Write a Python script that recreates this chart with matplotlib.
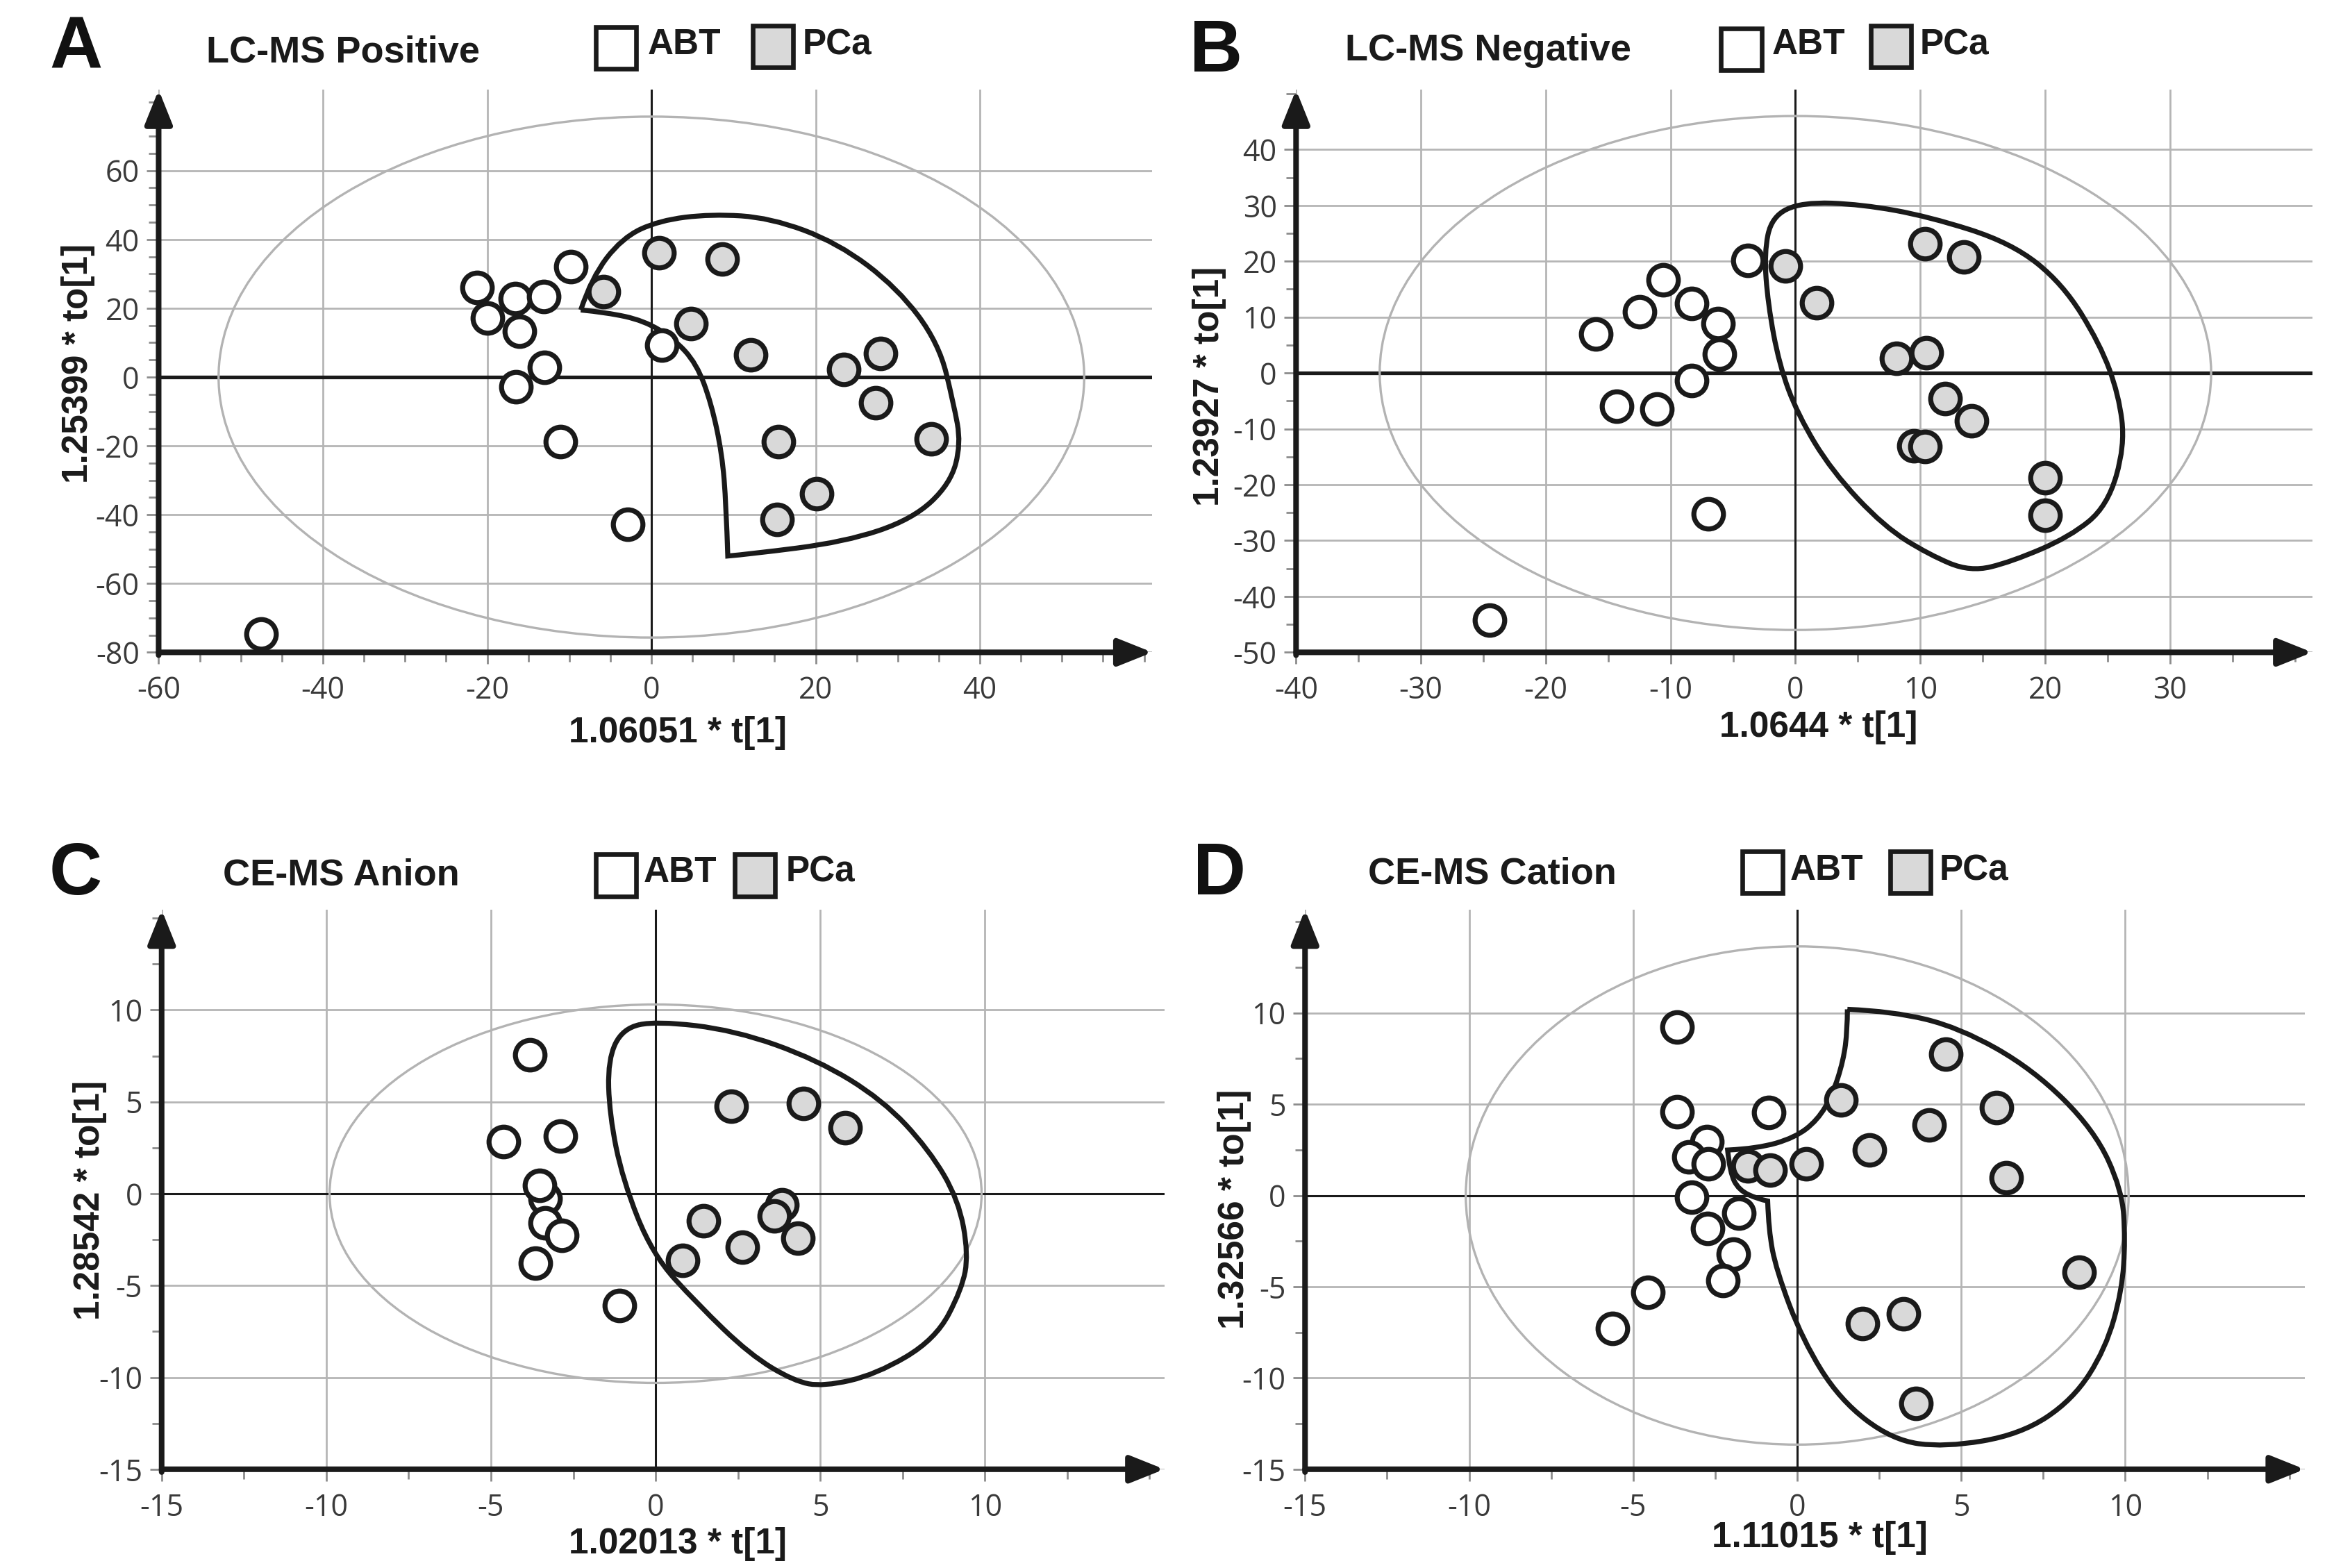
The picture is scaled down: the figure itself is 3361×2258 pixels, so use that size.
import numpy as np
import matplotlib.pyplot as plt
from matplotlib.patches import Ellipse, Rectangle, PathPatch
from matplotlib.path import Path
from matplotlib.ticker import MultipleLocator

plt.rcParams['font.family'] = ['Open Sans', 'DejaVu Sans']
plt.rcParams['axes.unicode_minus'] = False

BOLD = ['Liberation Sans', 'DejaVu Sans']

# ---------------- data ----------------
# A: LC-MS Positive
a_abt_x = [-21.2, -20.0, -16.6, -16.1, -13.1, -9.8, -13.0, -16.5, -11.1, 1.3, -2.9, -47.5]
a_abt_y = [26.1, 17.1, 22.9, 13.4, 23.4, 32.1, 2.9, -2.9, -18.7, 9.3, -42.8, -74.6]
a_pca_x = [-5.8, 0.9, 8.6, 4.8, 12.1, 23.4, 27.9, 27.3, 15.5, 34.1, 20.1, 15.3]
a_pca_y = [24.8, 36.1, 34.3, 15.5, 6.4, 2.2, 6.9, -7.4, -18.8, -18.0, -34.0, -41.3]
a_outline_x = [-8.6, -7.3, -3.6, 0.9, 7.3, 14.5, 22.7, 30.0, 35.0, 36.8, 37.7, 36.4,
               31.8, 23.6, 11.8, 9.3, 9.1, 8.6, 7.3, 5.5, 2.7, -0.9, -5.5]
a_outline_y = [19.5, 28.8, 40.4, 45.5, 47.4, 46.3, 39.0, 25.8, 9.8, -7.7, -19.4, -31.0,
               -41.3, -47.9, -51.5, -52.0, -37.0, -22.3, -7.7, 3.9, 11.2, 16.4, 18.8]
a_corners = [0, 15]
a_t2 = [52.7, 75.7]

# B: LC-MS Negative
b_abt_x = [-16.0, -14.3, -12.5, -11.1, -10.6, -8.3, -6.2, -6.1, -8.3, -3.8, -7.0, -24.5]
b_abt_y = [7.0, -6.0, 10.9, -6.4, 16.7, 12.4, 8.8, 3.4, -1.4, 20.1, -25.2, -44.2]
b_pca_x = [-0.8, 1.7, 10.4, 13.5, 8.1, 10.5, 12.0, 14.1, 9.5, 10.4, 20.0, 20.0]
b_pca_y = [19.2, 12.6, 23.1, 20.8, 2.6, 3.6, -4.6, -8.6, -13.0, -13.1, -18.7, -25.5]
b_outline_x = [0.5, 5.3, 10.7, 17.3, 21.4, 24.4, 25.9, 26.4, 25.0, 22.0, 17.3, 14.0,
               10.7, 7.1, 2.9, 0.2, -1.3, -2.2, -2.5, -1.9]
b_outline_y = [30.6, 30.2, 28.0, 23.3, 16.0, 5.2, -3.9, -13.0, -23.8, -29.3, -33.8, -35.6,
               -32.5, -27.5, -17.5, -7.5, 1.5, 12.4, 21.5, 28.0]
b_corners = []
b_t2 = [33.3, 46.0]

# C: CE-MS Anion
c_abt_x = [-3.82, -4.61, -2.89, -3.35, -3.52, -3.35, -2.85, -3.65, -1.09]
c_abt_y = [7.56, 2.83, 3.15, -0.25, 0.44, -1.57, -2.27, -3.78, -6.10]
c_pca_x = [2.29, 4.49, 5.76, 1.45, 0.82, 2.63, 3.83, 3.60, 4.33]
c_pca_y = [4.78, 4.92, 3.59, -1.47, -3.64, -2.91, -0.60, -1.22, -2.42]
c_outline_x = [0.02, 2.4, 4.9, 6.9, 8.3, 9.2, 9.5, 9.3, 8.5, 6.7, 5.1, 4.2, 2.86, 1.27,
               -0.1, -1.0, -1.4, -1.45, -1.0]
c_outline_y = [9.4, 8.9, 7.3, 5.1, 2.4, -0.33, -3.3, -5.2, -7.93, -9.84, -10.5, -10.2,
               -8.75, -6.0, -3.3, 0.76, 4.3, 7.3, 9.0]
c_corners = []
c_t2 = [9.9, 10.3]

# D: CE-MS Cation
d_abt_x = [-3.67, -3.67, -0.87, -2.76, -3.30, -2.71, -3.21, -1.78, -2.73, -1.94, -2.26, -4.56, -5.63]
d_abt_y = [9.23, 4.59, 4.54, 2.95, 2.13, 1.72, -0.11, -0.98, -1.80, -3.20, -4.67, -5.30, -7.27]
d_pca_x = [-1.50, -0.82, 0.27, 1.34, 2.21, 4.54, 4.03, 6.08, 6.38, 8.59, 1.98, 3.24, 3.62]
d_pca_y = [1.61, 1.39, 1.72, 5.22, 2.49, 7.76, 3.85, 4.81, 0.98, -4.21, -7.02, -6.48, -11.40]
d_outline_x = [1.53, 2.9, 4.95, 7.2, 9.05, 9.9, 10.0, 9.9, 9.4, 8.4, 6.8, 4.5, 2.9, 1.3,
               0.16, -0.64, -0.87, -0.9, -1.21, -1.78, -2.05, -2.12, -1.21, -0.07, 0.62,
               1.07, 1.41, 1.53]
d_outline_y = [10.2, 10.1, 9.2, 6.9, 3.6, 0.3, -2.4, -5.2, -8.4, -11.2, -13.1, -13.8, -13.4,
               -11.2, -7.9, -4.07, -1.9, -0.3, -0.19, 0.3, 1.26, 2.49, 2.57, 3.17, 4.13,
               5.5, 7.4, 9.1]
d_corners = [0, 17, 21]
d_t2 = [10.1, 13.65]

titles = ["LC-MS Positive", "LC-MS Negative", "CE-MS Anion", "CE-MS Cation"]
letters = ["A", "B", "C", "D"]
xlabels = ["1.06051 * t[1]", "1.0644 * t[1]", "1.02013 * t[1]", "1.11015 * t[1]"]
ylabels = ["1.25399 * to[1]", "1.23927 * to[1]", "1.28542 * to[1]", "1.32566 * to[1]"]
groups = ["ABT", "PCa"]


def outline_path(xs, ys, corners):
    # smooth closed outline (quadratic curves through midpoints), sharp at corners
    pts = list(zip(xs, ys))
    n = len(pts)
    sharp = [i in corners for i in range(n)]

    def mid(i, j):
        return ((pts[i][0] + pts[j][0]) / 2, (pts[i][1] + pts[j][1]) / 2)

    if any(sharp):
        s = sharp.index(True)
        order = [(s + k) % n for k in range(1, n + 1)]
        verts, codes = [pts[s]], [Path.MOVETO]
    else:
        order = list(range(n))
        verts, codes = [mid(n - 1, 0)], [Path.MOVETO]
    for i in order:
        if sharp[i]:
            verts.append(pts[i])
            codes.append(Path.LINETO)
        else:
            nxt = (i + 1) % n
            end = pts[nxt] if sharp[nxt] else mid(i, nxt)
            verts += [pts[i], end]
            codes += [Path.CURVE3, Path.CURVE3]
    return Path(verts, codes)


fig = plt.figure(figsize=(16.81, 11.29), dpi=200)
W, H = 1560.0, 1048.0  # layout measured on a 1560 px wide copy


def fx(px):
    return px / W


def fy(py):
    return 1 - py / H


panels = [
    dict(rect=[fx(106), fy(436), fx(770) - fx(106), fy(60) - fy(436)],
         xlim=(-60, 61), ylim=(-80, 83.5), xt=np.arange(-60, 41, 20), yt=np.arange(-80, 61, 20),
         minor=5, abt=(a_abt_x, a_abt_y), pca=(a_pca_x, a_pca_y),
         out=(a_outline_x, a_outline_y, a_corners), t2=a_t2, zlw=1.9),
    dict(rect=[fx(866), fy(436), fx(1545) - fx(866), fy(60) - fy(436)],
         xlim=(-40, 41.4), ylim=(-50, 50.7), xt=np.arange(-40, 31, 10), yt=np.arange(-50, 41, 10),
         minor=5, abt=(b_abt_x, b_abt_y), pca=(b_pca_x, b_pca_y),
         out=(b_outline_x, b_outline_y, b_corners), t2=b_t2, zlw=1.9),
    dict(rect=[fx(108), fy(982), fx(778) - fx(108), fy(608) - fy(982)],
         xlim=(-15, 15.45), ylim=(-15, 15.46), xt=np.arange(-15, 11, 5), yt=np.arange(-15, 11, 5),
         minor=2.5, abt=(c_abt_x, c_abt_y), pca=(c_pca_x, c_pca_y),
         out=(c_outline_x, c_outline_y, c_corners), t2=c_t2, zlw=1.1),
    dict(rect=[fx(872), fy(982), fx(1540) - fx(872), fy(608) - fy(982)],
         xlim=(-15, 15.47), ylim=(-15, 15.66), xt=np.arange(-15, 11, 5), yt=np.arange(-15, 11, 5),
         minor=2.5, abt=(d_abt_x, d_abt_y), pca=(d_pca_x, d_pca_y),
         out=(d_outline_x, d_outline_y, d_corners), t2=d_t2, zlw=1.1),
]

ink = '#1a1a1a'
arrow = '-|>,head_length=0.75,head_width=0.3'
for p in panels:
    ax = fig.add_axes(p['rect'])
    ax.set_xlim(*p['xlim'])
    ax.set_ylim(*p['ylim'])
    ax.set_xticks(p['xt'])
    ax.set_yticks(p['yt'])
    ax.xaxis.set_minor_locator(MultipleLocator(p['minor']))
    ax.yaxis.set_minor_locator(MultipleLocator(p['minor']))
    for s in ax.spines.values():
        s.set_visible(False)
    ax.grid(which='major', color='#b5b5b5', lw=1.0, zorder=0)
    ax.set_axisbelow(True)
    ax.tick_params(which='both', direction='out', color='#8c8c8c', width=1.0,
                   labelsize=15.5, labelcolor='#3a3a3a')
    ax.tick_params(which='major', length=6)
    ax.tick_params(which='minor', length=5)
    ax.tick_params(axis='x', pad=6)
    ax.tick_params(axis='y', pad=4)

    ax.axhline(0, color=ink, lw=p['zlw'], zorder=1)
    ax.axvline(0, color=ink, lw=1.1, zorder=1)
    ax.add_patch(Ellipse((0, 0), 2 * p['t2'][0], 2 * p['t2'][1], fill=False,
                         ec='#b3b3b3', lw=1.2, zorder=2))
    ox, oy, oc = p['out']
    ax.add_patch(PathPatch(outline_path(ox, oy, oc), fill=False, ec=ink, lw=2.6,
                           joinstyle='miter', zorder=3))
    ax.scatter(*p['abt'], s=235, facecolor='white', edgecolor=ink, linewidth=2.6, zorder=4)
    ax.scatter(*p['pca'], s=235, facecolor='#d9d9d9', edgecolor=ink, linewidth=2.6, zorder=5)

    # arrow axes
    ax.annotate('', xy=(1, 0), xytext=(0, 0), xycoords='axes fraction',
                arrowprops=dict(arrowstyle=arrow, lw=2.9, color=ink,
                                shrinkA=0, shrinkB=0, mutation_scale=20),
                annotation_clip=False, zorder=6)
    ax.annotate('', xy=(0, 1), xytext=(0, -0.005), xycoords='axes fraction',
                arrowprops=dict(arrowstyle=arrow, lw=2.9, color=ink,
                                shrinkA=0, shrinkB=0, mutation_scale=20),
                annotation_clip=False, zorder=6)

# headers: letter, title, legend boxes
letter_pos = [(33, 33), (795, 35), (33, 585), (797, 585)]
title_pos = [(138, 35), (899, 34), (149, 585), (914, 584)]
box_pos = [[(398, 18), (503, 17)], [(1150, 19), (1250, 17)],
           [(398, 571), (491, 571)], [(1164, 569), (1263, 569)]]
box_text = [[(433, 30), (536, 30)], [(1184, 30), (1283, 30)],
            [(430, 583), (525, 583)], [(1196, 582), (1296, 582)]]
xlab_pos = [(453, 490), (1215, 486), (453, 1032), (1216, 1028)]
ylab_pos = [(52, 243), (808, 258), (60, 802), (825, 808)]
box_fill = ['white', '#d9d9d9']

for i in range(4):
    fig.text(fx(letter_pos[i][0]), fy(letter_pos[i][1]), letters[i], family=BOLD,
             weight='bold', fontsize=38, ha='left', va='center', color='#111111')
    fig.text(fx(title_pos[i][0]), fy(title_pos[i][1]), titles[i], family=BOLD,
             weight='bold', fontsize=19.5, ha='left', va='center', color='#1a1a1a')
    for j in range(2):
        bx, by = box_pos[i][j]
        fig.patches.append(Rectangle((fx(bx), fy(by + 28)), 27 / W, 28 / H,
                                     transform=fig.transFigure, fc=box_fill[j],
                                     ec=ink, lw=2.4))
        fig.text(fx(box_text[i][j][0]), fy(box_text[i][j][1]), groups[j], family=BOLD,
                 weight='bold', fontsize=18.5, ha='left', va='center', color='#1a1a1a')
    fig.text(fx(xlab_pos[i][0]), fy(xlab_pos[i][1]), xlabels[i], family=BOLD,
             weight='bold', fontsize=18.5, ha='center', va='center', color='#1a1a1a')
    fig.text(fx(ylab_pos[i][0]), fy(ylab_pos[i][1]), ylabels[i], family=BOLD,
             weight='bold', fontsize=18.5, ha='center', va='center', rotation=90,
             color='#1a1a1a')

fig.savefig('out.png', dpi=200)
plt.close(fig)
